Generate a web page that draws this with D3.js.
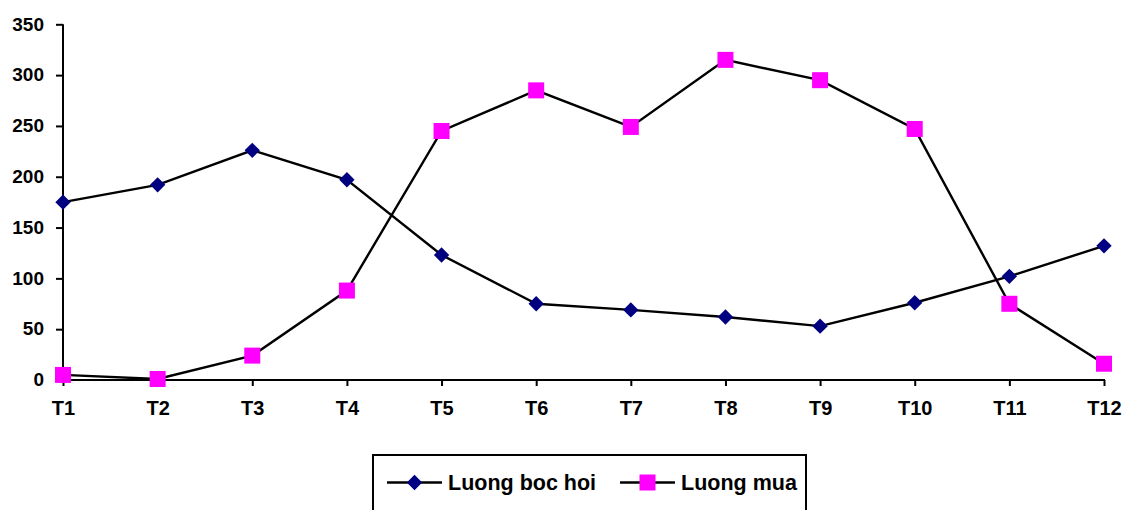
<!DOCTYPE html>
<html>
<head>
<meta charset="utf-8">
<script src="https://cdn.jsdelivr.net/npm/d3@7/dist/d3.min.js"></script>
<style>
  html, body { margin: 0; padding: 0; background: #fff; }
  svg { display: block; }
  text { font-family: "Liberation Sans", Arial, sans-serif; font-weight: bold; fill: #000; }
</style>
</head>
<body>
<svg id="chart" width="1128" height="510"></svg>
<script>
const categories = ["T1","T2","T3","T4","T5","T6","T7","T8","T9","T10","T11","T12"];
const luongBocHoi = [175, 192, 226, 197, 123, 75, 69, 62, 53, 76, 102, 132];
const luongMua = [5, 1, 24, 88, 245, 285, 249, 315, 295, 247, 75, 16];
const yTicks = [0, 50, 100, 150, 200, 250, 300, 350];
const seriesNames = ["Luong boc hoi", "Luong mua"];

const svg = d3.select("#chart");
const x = d3.scalePoint().domain(categories).range([63, 1104]);
const y = d3.scaleLinear().domain([0, 350]).range([380, 24.3]);

// Y axis
const yAxis = svg.append("g").attr("transform", "translate(63,0)")
  .call(d3.axisLeft(y).tickValues(yTicks).tickSize(7).tickPadding(12).tickFormat(d3.format("d")));
yAxis.select(".domain").attr("stroke", "#000").attr("stroke-width", 2).attr("d", `M0,${y(350)}V${y(0)}`);
yAxis.selectAll(".tick line").attr("stroke", "#000").attr("stroke-width", 2);
yAxis.selectAll(".tick text").style("font-size", "19px").attr("dy", "0.3em");

// X axis
const xAxis = svg.append("g").attr("transform", "translate(0,380)")
  .call(d3.axisBottom(x).tickSize(6).tickPadding(15));
xAxis.select(".domain").attr("stroke", "#000").attr("stroke-width", 2).attr("d", `M63,0H1105`);
xAxis.selectAll(".tick line").attr("stroke", "#000").attr("stroke-width", 2);
xAxis.selectAll(".tick text").style("font-size", "20px").attr("dy", "0.71em");

const line = d3.line().x((d, i) => x(categories[i])).y(d => y(d));
const diamond = d3.symbol().type(d3.symbolDiamond2).size(150);

// Series 1: Luong boc hoi
svg.append("path").datum(luongBocHoi).attr("d", line)
  .attr("fill", "none").attr("stroke", "#000").attr("stroke-width", 2.4);
svg.append("g").selectAll("path").data(luongBocHoi).join("path")
  .attr("d", diamond)
  .attr("transform", (d, i) => `translate(${x(categories[i])},${y(d)})`)
  .attr("fill", "#000080");

// Series 2: Luong mua
svg.append("path").datum(luongMua).attr("d", line)
  .attr("fill", "none").attr("stroke", "#000").attr("stroke-width", 2.4);
svg.append("g").selectAll("rect").data(luongMua).join("rect")
  .attr("x", (d, i) => x(categories[i]) - 8)
  .attr("y", d => y(d) - 8)
  .attr("width", 16).attr("height", 16)
  .attr("fill", "#ff00ff");

// Legend
const lg = svg.append("g");
lg.append("rect").attr("x", 373).attr("y", 455).attr("width", 433).attr("height", 70)
  .attr("fill", "#fff").attr("stroke", "#000").attr("stroke-width", 2);
const ly = 482.5;
const items = [
  { name: seriesNames[0], x0: 387, type: "diamond" },
  { name: seriesNames[1], x0: 620, type: "square" }
];
items.forEach(it => {
  lg.append("line").attr("x1", it.x0).attr("x2", it.x0 + 55).attr("y1", ly).attr("y2", ly)
    .attr("stroke", "#000").attr("stroke-width", 2.4);
  if (it.type === "diamond") {
    lg.append("path").attr("d", diamond).attr("transform", `translate(${it.x0 + 27.5},${ly})`).attr("fill", "#000080");
  } else {
    lg.append("rect").attr("x", it.x0 + 27.5 - 8).attr("y", ly - 8).attr("width", 16).attr("height", 16).attr("fill", "#ff00ff");
  }
  lg.append("text").attr("x", it.x0 + 61).attr("y", ly).attr("dy", "0.35em")
    .style("font-size", "21.5px").text(it.name);
});
</script>
</body>
</html>
